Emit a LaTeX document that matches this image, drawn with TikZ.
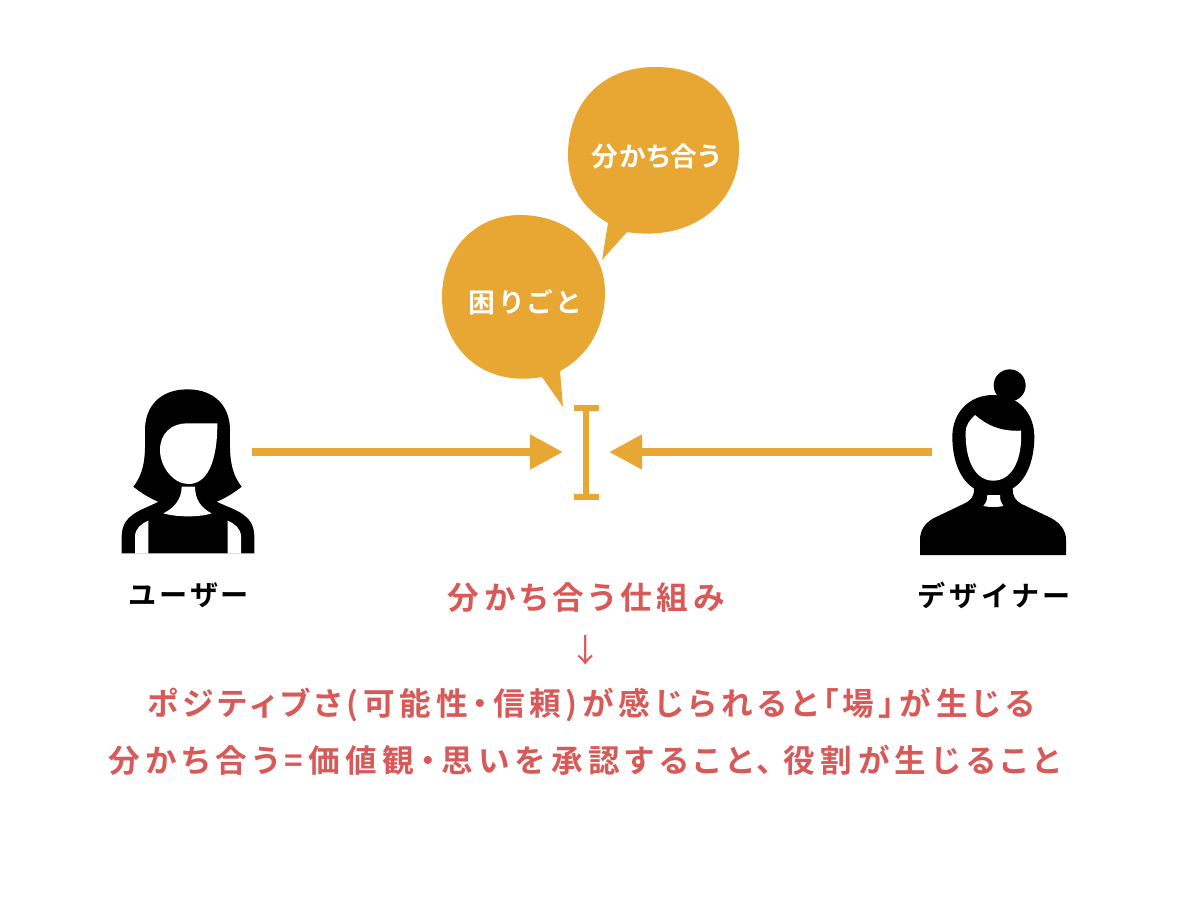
\documentclass[tikz,border=0pt]{standalone}
\usepackage{fontspec}
\usetikzlibrary{arrows.meta}
\newfontfamily\jpfont[RawFeature=+palt]{Noto Sans CJK JP}
\newfontfamily\jpbold[RawFeature=+palt,UprightFont=* Bold]{Noto Sans CJK JP}
\definecolor{bubbleorange}{HTML}{E8A633}
\definecolor{notered}{HTML}{D75A58}
\tikzset{
  bubbletext/.style={text=white,font=\jpbold\fontsize{19}{23}\selectfont},
  persontext/.style={text=black,font=\jpbold\fontsize{20}{24}\selectfont},
  notetext/.style={text=notered,font=\jpbold\fontsize{22.5}{27}\selectfont},
  pointer/.style={text=notered,font=\jpfont\fontsize{23}{27}\selectfont},
  meet/.style={draw=bubbleorange,line width=5.7pt,-{Triangle[length=23.5pt,width=23.5pt]}},
  slitline/.style={draw=bubbleorange,line width=3.8pt},
  slitcap/.style={draw=bubbleorange,line width=4.2pt},
  iconpart/.style={shift={(#1)},x=.008333cm,y=-.008333cm}
}
\begin{document}
\begin{tikzpicture}[x=.025cm,y=-.025cm]
\useasboundingbox (0,0) rectangle (1200,897);
% speech bubbles
\fill[bubbleorange] (627,232) .. controls (690,242) and (739,205) .. (739,150) .. controls (739,100) and (710,67) .. (655,67) .. controls (600,67) and (568,105) .. (568,155) .. controls (568,185) and (582,208) .. (608,223) -- (602,260) -- cycle;
\fill[bubbleorange] (560,371) .. controls (590,355) and (605,325) .. (605,292) .. controls (605,250) and (570,215) .. (520,215) .. controls (475,215) and (442,250) .. (442,297) .. controls (442,345) and (480,388) .. (542,377) -- (563,407) -- cycle;
\node[bubbletext] (share) at (656,156) {\addfontfeature{LetterSpace=3}分かち合う};
\node[bubbletext] (trouble) at (524,302) {\addfontfeature{LetterSpace=21}困りごと};
% user
\begin{scope}[iconpart={100,370}]
\fill[black] (262,58) .. controls (180,58) and (135,110) .. (135,180) .. controls (135,240) and (140,300) .. (100,350) .. controls (125,370) and (150,385) .. (175,395) .. controls (130,420) and (65,430) .. (65,500) -- (65,550) -- (463,550) -- (463,500) .. controls (463,430) and (400,420) .. (350,395) .. controls (375,385) and (400,370) .. (425,350) .. controls (385,300) and (390,240) .. (390,180) .. controls (390,110) and (345,58) .. (262,58);
\fill[white] (352,160) -- (260,160) .. controls (215,160) and (180,190) .. (180,240) .. controls (180,290) and (220,342) .. (265,342) .. controls (320,342) and (352,280) .. (352,160);
\fill[white] (245,350) .. controls (245,390) and (220,415) .. (190,430) .. controls (230,442) and (300,442) .. (335,430) .. controls (305,415) and (285,390) .. (285,350) -- cycle;
\fill[white] (105,551) -- (105,500) .. controls (105,475) and (125,460) .. (145,452) -- (145,551) -- cycle;
\fill[white] (423,551) -- (423,500) .. controls (423,475) and (403,460) .. (383,452) -- (383,551) -- cycle;
\end{scope}
% designer
\begin{scope}[iconpart={900,360}]
\fill[black] (329,76) circle (48);
\fill[black] (280,105) .. controls (205,105) and (157,160) .. (157,230) .. controls (157,300) and (180,360) .. (222,385) .. controls (222,410) and (215,420) .. (190,432) -- (100,475) .. controls (75,490) and (60,510) .. (60,540) -- (60,585) -- (498,585) -- (498,540) .. controls (498,510) and (480,490) .. (455,475) -- (365,432) .. controls (345,420) and (338,410) .. (338,385) .. controls (380,360) and (403,300) .. (403,230) .. controls (403,160) and (355,105) .. (280,105);
\fill[white] (225,165) .. controls (260,195) and (300,215) .. (363,212) .. controls (368,300) and (335,362) .. (280,362) .. controls (225,362) and (195,300) .. (197,215) .. controls (197,195) and (210,180) .. (225,165);
\fill[white] (262,405) -- (300,405) .. controls (300,420) and (303,430) .. (310,438) .. controls (290,442) and (270,442) .. (250,438) .. controls (257,430) and (262,420) .. (262,405);
\end{scope}
% arrows
\coordinate (userside) at (252,452);
\coordinate (slitleft) at (563,452);
\coordinate (designerside) at (932,452);
\coordinate (slitright) at (609,452);
\coordinate (slittop) at (586,405);
\coordinate (slitbottom) at (586,500);
\coordinate (capa) at (573.7,408);
\coordinate (capb) at (598.7,408);
\coordinate (capc) at (573.7,497);
\coordinate (capd) at (598.7,497);
\draw[meet] (userside) -- (slitleft);
\draw[meet] (designerside) -- (slitright);
\draw[slitline] (slittop) -- (slitbottom);
\draw[slitcap] (capa) -- (capb);
\draw[slitcap] (capc) -- (capd);
% labels
\node[persontext] (user) at (189,595) {\addfontfeature{LetterSpace=12}ユーザー};
\node[persontext] (designer) at (994,595) {\addfontfeature{LetterSpace=17}デザイナー};
\node[notetext] (mechanism) at (586,598) {\addfontfeature{LetterSpace=15.4}分かち合う仕組み};
\node[pointer] (down) at (586,650) {↓};
\node[notetext] (positive) at (591,705) {\addfontfeature{LetterSpace=14.9}ポジティブさ(可能性・信頼)が感じられると「場」が生じる};
\node[notetext] (meaning) at (584,760) {\addfontfeature{LetterSpace=17.4}分かち合う=価値観・思いを承認すること、\hspace{.35em}役割が生じること};
\end{tikzpicture}
\end{document}
